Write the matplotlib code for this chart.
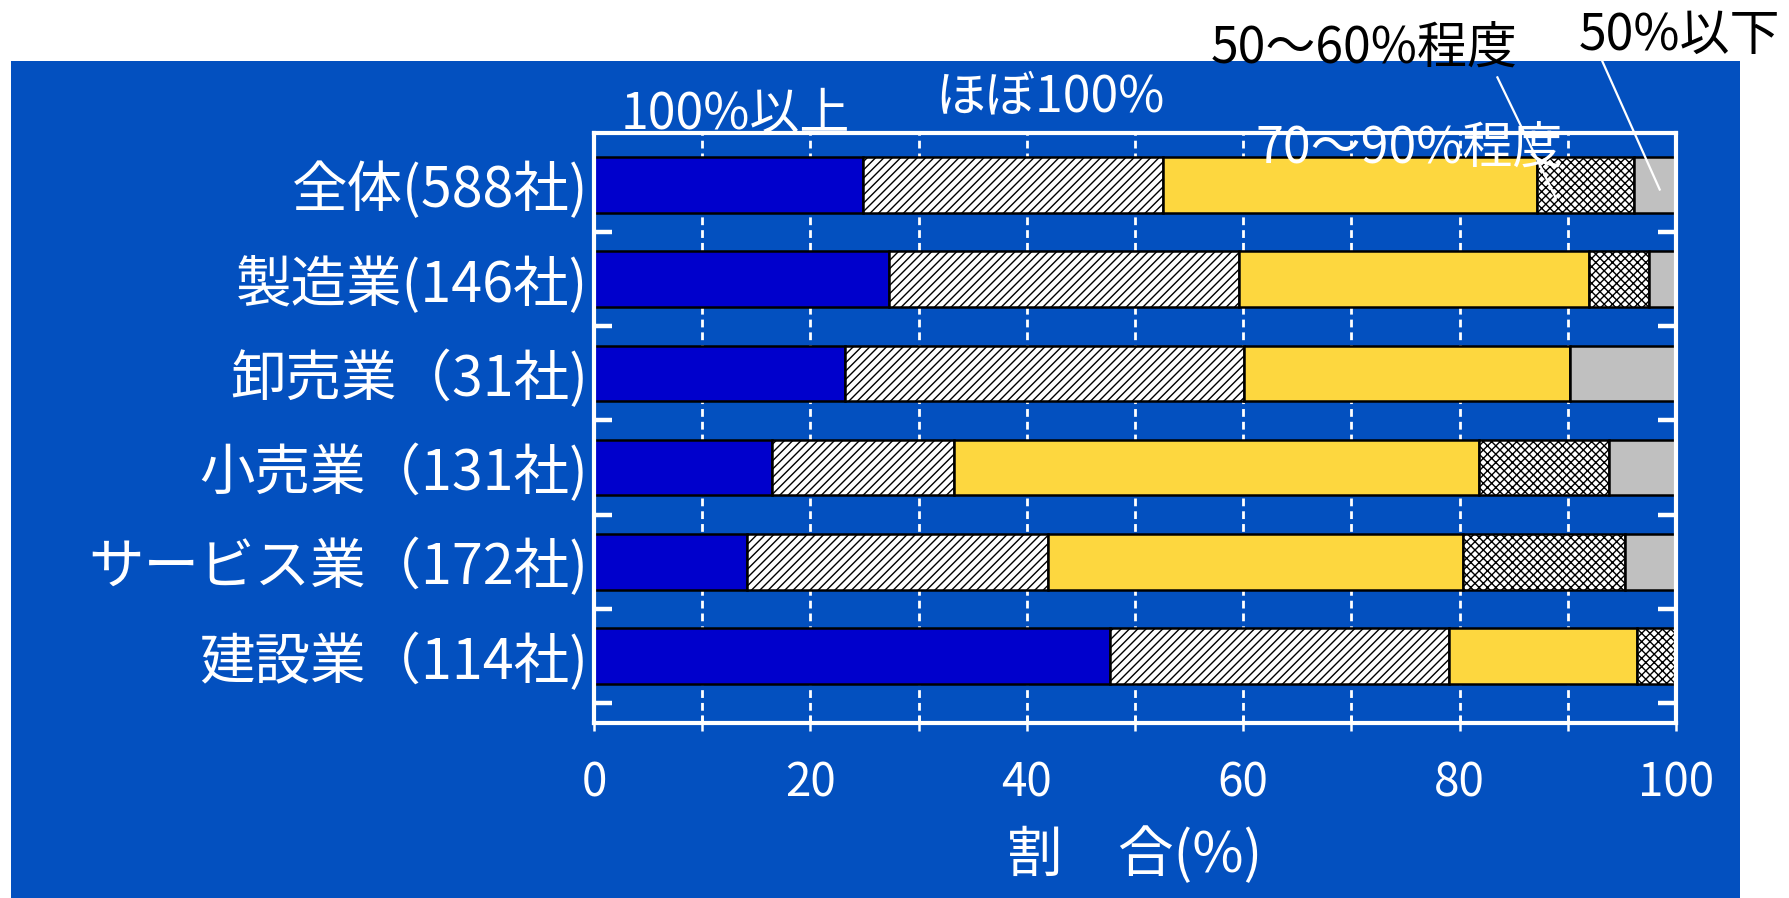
import matplotlib
matplotlib.use("Agg")
import matplotlib.pyplot as plt
from matplotlib.patches import Rectangle
import numpy as np

plt.rcParams["font.family"] = ["Noto Sans CJK JP", "DejaVu Sans"]
plt.rcParams["hatch.linewidth"] = 1.0
plt.rcParams["hatch.color"] = "black"

BG_BLUE = "#0350BF"

# 業種別の回答割合(%)
categories = ["全体(588社)", "製造業(146社)", "卸売業（31社)", "小売業（131社)",
              "サービス業（172社)", "建設業（114社)"]
over_100 = [24.9, 27.3, 23.2, 16.5, 14.1, 47.7]
about_100 = [27.7, 32.3, 36.9, 16.8, 27.9, 31.3]
pct_70_90 = [34.6, 32.4, 30.1, 48.5, 38.3, 17.4]
pct_50_60 = [8.9, 5.5, 0.0, 12.0, 15.0, 3.6]
under_50 = [3.9, 2.5, 9.8, 6.2, 4.7, 0.0]

series = [
    (over_100, "#0000CC", None),
    (about_100, "white", "////"),
    (pct_70_90, "#FDD73F", None),
    (pct_50_60, "white", "xxxx"),
    (under_50, "#C0C0C0", None),
]

xticks_major = [0, 20, 40, 60, 80, 100]

fig = plt.figure(figsize=(17.89, 8.98), dpi=100, facecolor="white")
fig.patches.append(Rectangle((0.00615, 0.0), 0.9665, 0.932, transform=fig.transFigure,
                             facecolor=BG_BLUE, edgecolor="none", zorder=-10))

ax = fig.add_axes([0.332, 0.1949, 0.6048, 0.657])
ax.set_facecolor("none")
ax.set_axisbelow(True)

y = np.arange(len(categories))
left = np.zeros(len(categories))
for values, color, hatch in series:
    vals = np.array(values)
    ax.barh(y, vals, left=left, height=0.59, color=color, edgecolor="black",
            linewidth=1.8, hatch=hatch, zorder=2)
    left += vals

ax.set_xlim(0, 100)
ax.set_ylim(5.71, -0.55)

ax.set_xticks(xticks_major)
ax.set_xticks(np.arange(0, 101, 10), minor=True)
ax.set_xticklabels([str(v) for v in xticks_major])
ax.tick_params(axis="x", which="both", direction="inout", length=12, width=1.8,
               color="white", labelcolor="white", labelsize=33, pad=20)
ax.xaxis.grid(True, which="both", color="white", linewidth=2.0,
              linestyle=(0, (2.8, 1.8)))

ax.set_yticks(y)
ax.set_yticklabels(categories)
ax.set_yticks(np.arange(0.5, len(categories), 1.0), minor=True)
ax.tick_params(axis="y", which="major", length=0, labelcolor="white",
               labelsize=40, pad=4)
ax.tick_params(axis="y", which="minor", direction="in", length=13, width=3.2,
               color="white", left=True, right=True)

for spine in ax.spines.values():
    spine.set_color("white")
    spine.set_linewidth(3)
    spine.set_zorder(3)

ax.set_xlabel("割　合(%)", color="white", fontsize=40, labelpad=14)

# 凡例代わりの注記
note_kw = dict(fontsize=36, ha="center", va="center", zorder=5)
fig.text(0.4108, 0.872, "100%以上", color="white", **note_kw)
fig.text(0.5869, 0.892, "ほぼ100%", color="white", **note_kw)
fig.text(0.7876, 0.835, "70～90%程度", color="white", **note_kw)
fig.text(0.7624, 0.9454, "50～60%程度", color="black", **note_kw)
fig.text(0.9385, 0.960, "50%以下", color="black", **note_kw)

ax.plot([83.5, 88.9], [-1.14, 0.14], color="white", linewidth=1.6, clip_on=False, zorder=4)
ax.plot([93.2, 98.5], [-1.31, 0.05], color="white", linewidth=1.6, clip_on=False, zorder=4)

fig.savefig("out.png", dpi=100, facecolor="white")
